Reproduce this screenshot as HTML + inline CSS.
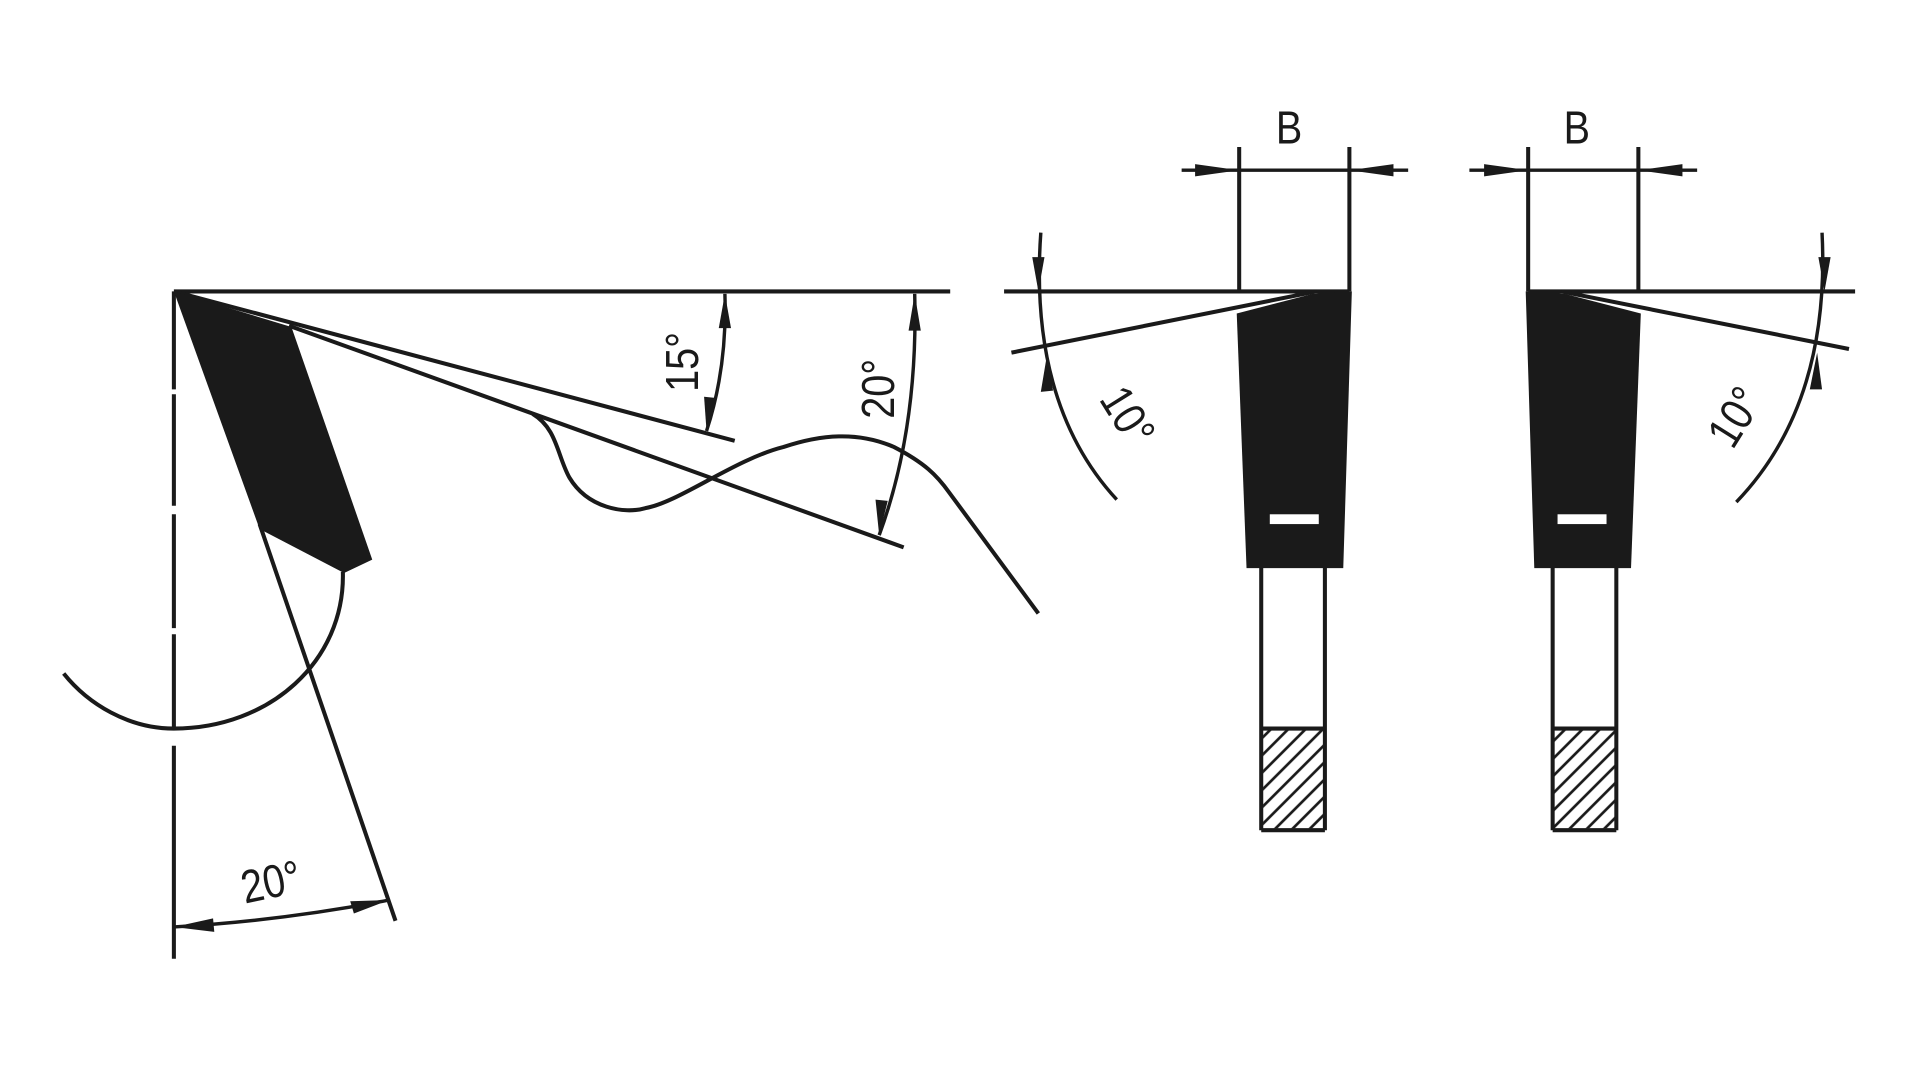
<!DOCTYPE html>
<html><head><meta charset="utf-8"><style>
html,body{margin:0;padding:0;background:#fff;width:1920px;height:1080px;overflow:hidden}
svg{display:block}
text{font-family:"Liberation Sans",sans-serif;fill:#1a1a1a}
</style></head><body>
<svg width="1920" height="1080" viewBox="0 0 1568 882" preserveAspectRatio="none" xmlns="http://www.w3.org/2000/svg">
<defs>
<pattern id="h" width="10" height="10" patternUnits="userSpaceOnUse" patternTransform="rotate(45)">
<line x1="5" y1="0" x2="5" y2="10" stroke="#1a1a1a" stroke-width="2.2"/>
</pattern>
</defs>
<g stroke="#1a1a1a" stroke-width="3.3" fill="none" stroke-linecap="butt">
<line x1="142" y1="238" x2="776" y2="238"/>
<path d="M142,238V318 M142,322V413 M142,420V513 M142,518V594 M142,609V783"/>
<line x1="142" y1="238" x2="600" y2="360"/>
<line x1="236" y1="266" x2="738" y2="447"/>
<line x1="212" y1="428" x2="323" y2="752"/>
<path d="M280,467 C282,540 220,595 142,595 C105,595 72,575 52,550"/>
<path d="M435,338 C455,350 455,372 465,390 C480,415 510,420 527,415 C555,410 600,375 640,365 C670,355 700,352 730,365 C755,378 765,388 775,402 L848,501"/>
<path d="M592,240 Q594,300 577,352" stroke-width="2.8"/>
<path d="M747,240 Q750,350 718,437" stroke-width="2.8"/>
<path d="M142,757 Q230,752 318,735" stroke-width="2.8"/>
<line x1="1012" y1="120" x2="1012" y2="238"/>
<line x1="1102" y1="120" x2="1102" y2="238"/>
<line x1="965" y1="139" x2="1150" y2="139" stroke-width="2.8"/>
<line x1="820" y1="238" x2="1102" y2="238"/>
<line x1="826" y1="288" x2="1075" y2="238"/>
<path d="M850,190 Q840,330 912,408" stroke-width="2.8"/>
<line x1="1030" y1="463" x2="1030" y2="678"/>
<line x1="1082" y1="463" x2="1082" y2="678"/>
<line x1="1030" y1="595" x2="1082" y2="595"/>
<line x1="1030" y1="678" x2="1082" y2="678"/>
<line x1="1248" y1="120" x2="1248" y2="238"/>
<line x1="1338" y1="120" x2="1338" y2="238"/>
<line x1="1200" y1="139" x2="1386" y2="139" stroke-width="2.8"/>
<line x1="1248" y1="238" x2="1515" y2="238"/>
<line x1="1275" y1="238" x2="1510" y2="285"/>
<path d="M1488,190 Q1495,330 1418,410" stroke-width="2.8"/>
<line x1="1268" y1="463" x2="1268" y2="678"/>
<line x1="1320" y1="463" x2="1320" y2="678"/>
<line x1="1268" y1="595" x2="1320" y2="595"/>
<line x1="1268" y1="678" x2="1320" y2="678"/>
</g>
<g fill="#1a1a1a">
<polygon points="142,238 238,267 304,457 281,468 212,432"/>
<polygon points="1072,240 1104,238 1097,464 1018,464 1010,256"/>
<polygon points="1278,240 1246,238 1253,464 1332,464 1340,256"/>
<polygon points="592,240 587,268 597,268"/>
<polygon points="577,352 575,324 585,325"/>
<polygon points="747,240 742,270 752,270"/>
<polygon points="718,437 715,408 725,409"/>
<polygon points="142,757 174,750 175,761"/>
<polygon points="318,735 286,736 289,746"/>
<polygon points="1012,139 976,134 976,144"/>
<polygon points="1102,139 1138,134 1138,144"/>
<polygon points="1248,139 1212,134 1212,144"/>
<polygon points="1338,139 1374,134 1374,144"/>
<polygon points="848,238 843,210 853,210"/>
<polygon points="855,290 850,320 860,319"/>
<polygon points="1490,238 1485,210 1495,210"/>
<polygon points="1484,288 1478,318 1488,318"/>
</g>
<g fill="#fff">
<rect x="1037" y="420" width="40" height="8"/>
<rect x="1272" y="420" width="40" height="8"/>
</g>
<rect x="1031.5" y="596.5" width="49" height="80" fill="url(#h)"/>
<rect x="1269.5" y="596.5" width="49" height="80" fill="url(#h)"/>
<g font-size="38">
<text x="0" y="0" transform="translate(570,320) rotate(-90) scale(0.85,1)">15°</text>
<text x="0" y="0" transform="translate(730,342) rotate(-90) scale(0.85,1)">20°</text>
<text x="0" y="0" transform="translate(200,738) rotate(-12) scale(0.85,1)">20°</text>
<text x="0" y="0" transform="translate(1042,117) scale(0.85,1)">B</text>
<text x="0" y="0" transform="translate(1277,117) scale(0.85,1)">B</text>
<text x="0" y="0" transform="translate(897,326) rotate(58) scale(0.85,1)">10°</text>
<text x="0" y="0" transform="translate(1415,368) rotate(-58) scale(0.85,1)">10°</text>
</g>
</svg>
</body></html>
